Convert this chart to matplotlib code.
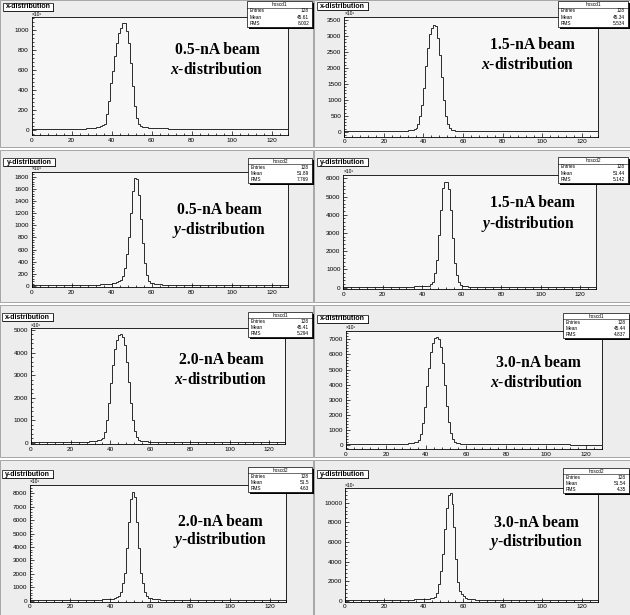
import matplotlib.pyplot as plt
import numpy as np
from matplotlib.patches import Rectangle
from matplotlib.transforms import Affine2D
from matplotlib.ticker import MultipleLocator

plt.rcParams['mathtext.fontset'] = 'custom'
plt.rcParams['mathtext.it'] = 'Liberation Serif:italic:bold'
plt.rcParams['mathtext.rm'] = 'Liberation Serif:bold'

W, H = 630, 615

# histograms: 128 bins from 0 to 128, counts in units of 10^3
n_bins = 128
x_range = (0, 128)

x_05 = [12, 11, 11, 10, 10, 11, 10, 10, 9, 10, 10, 9, 10, 10, 9, 10,
        10, 11, 10, 11, 11, 12, 12, 13, 13, 14, 15, 16, 17, 19, 21, 24,
        28, 33, 40, 48, 60, 165, 285, 465, 585, 735, 865, 965, 1015, 1065, 1073, 985,
        865, 665, 435, 235, 120, 58, 40, 33, 29, 26, 24, 22, 21, 20, 19, 18,
        17, 17, 16, 16, 15, 15, 15, 14, 14, 14, 13, 13, 13, 13, 12, 12,
        12, 12, 12, 11, 11, 11, 11, 11, 11, 10, 10, 10, 10, 10, 10, 10,
        10, 10, 10, 9, 10, 10, 9, 10, 9, 9, 10, 9, 9, 9, 10, 9,
        9, 9, 9, 10, 9, 9, 9, 9, 9, 8, 9, 9, 9, 9, 9, 9]

x_15 = [12, 11, 11, 11, 10, 10, 10, 10, 10, 10, 10, 10, 10, 10, 11, 11,
        11, 11, 12, 12, 13, 13, 14, 15, 16, 17, 18, 20, 22, 25, 28, 33,
        40, 50, 65, 90, 130, 230, 480, 850, 1380, 2050, 2620, 3050, 3250, 3340, 3300, 2950,
        2400, 1700, 1000, 500, 230, 110, 65, 45, 36, 30, 26, 23, 21, 19, 18, 17,
        16, 15, 15, 14, 14, 13, 13, 13, 12, 12, 12, 12, 11, 11, 11, 11,
        11, 11, 11, 10, 10, 10, 10, 10, 10, 10, 10, 10, 10, 10, 10, 10,
        10, 10, 10, 10, 10, 10, 10, 10, 10, 10, 10, 10, 10, 10, 10, 10,
        10, 10, 10, 10, 10, 10, 10, 10, 10, 10, 10, 10, 10, 10, 10, 10]

y_05 = [14, 13, 13, 13, 13, 12, 12, 12, 12, 12, 12, 12, 12, 12, 12, 12,
        12, 12, 13, 13, 13, 14, 14, 15, 15, 16, 17, 17, 18, 19, 20, 21,
        22, 24, 26, 28, 30, 33, 36, 40, 45, 52, 62, 75, 100, 170, 300, 520,
        800, 1200, 1560, 1775, 1760, 1500, 1100, 700, 380, 180, 90, 55, 42, 36, 32, 29,
        26, 24, 23, 22, 21, 20, 19, 18, 18, 17, 17, 16, 16, 16, 15, 15,
        15, 15, 14, 14, 14, 14, 14, 14, 13, 13, 13, 13, 13, 13, 13, 13,
        13, 13, 12, 12, 12, 12, 12, 12, 12, 12, 12, 12, 12, 12, 12, 12,
        12, 12, 12, 12, 11, 11, 11, 11, 11, 11, 11, 11, 11, 11, 11, 11]

y_15 = [22, 21, 21, 20, 20, 20, 20, 20, 20, 20, 20, 20, 20, 20, 21, 21,
        21, 22, 22, 23, 24, 25, 26, 27, 28, 30, 32, 34, 36, 39, 42, 46,
        50, 54, 58, 63, 68, 74, 80, 86, 92, 98, 104, 110, 180, 330, 790, 1520,
        2890, 4260, 5450, 5820, 5800, 5390, 4260, 2700, 1330, 700, 330, 150, 100, 80, 68, 60,
        54, 50, 46, 43, 40, 38, 36, 34, 32, 31, 30, 29, 28, 27, 26, 25,
        25, 24, 24, 23, 23, 22, 22, 22, 21, 21, 21, 21, 20, 20, 20, 20,
        20, 20, 20, 20, 20, 20, 20, 20, 20, 20, 20, 20, 20, 20, 20, 20,
        20, 20, 20, 20, 19, 19, 19, 19, 19, 19, 19, 19, 19, 19, 19, 19]

x_20 = [30, 28, 27, 26, 26, 25, 25, 25, 25, 25, 25, 25, 26, 26, 26, 27,
        27, 28, 29, 30, 31, 32, 34, 36, 38, 40, 43, 46, 50, 55, 62, 70,
        80, 95, 115, 140, 190, 490, 1000, 1750, 2630, 3450, 4150, 4560, 4780, 4820, 4700, 4350,
        3600, 2700, 1750, 1000, 520, 250, 130, 90, 70, 60, 52, 47, 43, 40, 38, 36,
        34, 33, 32, 31, 30, 29, 28, 28, 27, 27, 26, 26, 26, 25, 25, 25,
        25, 25, 25, 24, 24, 24, 24, 24, 24, 24, 24, 24, 23, 23, 23, 23,
        23, 23, 23, 23, 23, 23, 23, 23, 23, 23, 23, 23, 23, 23, 23, 23,
        22, 22, 22, 22, 22, 22, 22, 22, 22, 22, 22, 22, 22, 22, 22, 22]

x_30 = [45, 42, 40, 39, 38, 38, 37, 37, 37, 37, 37, 38, 38, 39, 39, 40,
        41, 42, 43, 45, 47, 49, 51, 54, 57, 60, 64, 69, 75, 82, 92, 105,
        120, 140, 170, 210, 300, 700, 1450, 2550, 3900, 5100, 6150, 6750, 7100, 7150, 7000, 6500,
        5400, 4000, 2600, 1500, 780, 380, 190, 130, 100, 85, 75, 68, 62, 58, 55, 52,
        50, 48, 46, 44, 43, 42, 41, 40, 39, 38, 38, 37, 37, 36, 36, 36,
        36, 35, 35, 35, 35, 35, 34, 34, 34, 34, 34, 34, 34, 34, 34, 34,
        34, 34, 34, 34, 34, 34, 34, 34, 34, 34, 34, 34, 34, 34, 34, 34,
        33, 33, 33, 33, 33, 33, 33, 33, 33, 33, 33, 33, 33, 33, 33, 33]

y_20 = [35, 33, 32, 31, 30, 30, 30, 30, 30, 30, 30, 30, 31, 31, 31, 32,
        32, 33, 34, 35, 36, 37, 38, 40, 42, 44, 46, 49, 52, 55, 59, 63,
        68, 73, 79, 86, 94, 103, 113, 125, 140, 160, 200, 260, 360, 650, 1300, 2100,
        3900, 5900, 7600, 8100, 7700, 5900, 3900, 2100, 1300, 650, 360, 230, 170, 140, 120, 105,
        95, 88, 82, 77, 72, 68, 64, 61, 58, 56, 54, 52, 50, 48, 47, 46,
        45, 44, 43, 42, 41, 40, 40, 39, 39, 38, 38, 37, 37, 36, 36, 36,
        35, 35, 35, 35, 35, 35, 35, 35, 35, 35, 35, 35, 35, 35, 35, 35,
        34, 34, 34, 34, 34, 34, 34, 34, 34, 34, 34, 34, 34, 34, 34, 34]

y_30 = [50, 47, 45, 44, 43, 43, 42, 42, 42, 42, 42, 43, 43, 44, 44, 45,
        46, 47, 48, 50, 52, 54, 56, 59, 62, 65, 69, 73, 78, 84, 90, 97,
        105, 112, 120, 128, 137, 147, 160, 175, 190, 205, 220, 240, 270, 330, 800, 1700,
        3000, 4800, 7300, 9500, 10800, 11000, 9900, 7500, 4300, 1900, 1000, 650, 430, 280, 200, 160,
        140, 125, 113, 103, 95, 88, 82, 77, 73, 69, 66, 63, 61, 59, 57, 55,
        54, 53, 52, 51, 50, 49, 48, 48, 47, 47, 46, 46, 45, 45, 45, 44,
        44, 44, 44, 44, 44, 44, 44, 44, 44, 44, 44, 44, 44, 44, 44, 44,
        43, 43, 43, 43, 43, 43, 43, 43, 43, 43, 43, 43, 43, 43, 43, 43]

# panel order: row by row, left then right
counts = [x_05, x_15, y_05, y_15, x_20, x_30, y_20, y_30]
beams = ['0.5-nA beam', '1.5-nA beam', '0.5-nA beam', '1.5-nA beam',
         '2.0-nA beam', '3.0-nA beam', '2.0-nA beam', '3.0-nA beam']
axes_var = ['x', 'x', 'y', 'y', 'x', 'x', 'y', 'y']
hist_names = ['hoscd1', 'hoscd1', 'hoscd2', 'hoscd2', 'hoscd1', 'hoscd1', 'hoscd2', 'hoscd2']
entries = [128, 128, 128, 128, 128, 128, 128, 128]
means = ['45.61', '45.34', '51.89', '51.44', '45.41', '45.44', '51.5', '51.54']
rms = ['8.002', '5.534', '7.769', '5.142', '5.294', '4.837', '4.63', '4.35']
y_steps = [200, 500, 200, 1000, 1000, 1000, 1000, 2000]

# layout in pixels of the screenshot (x0, y0, x1, y1 measured from top-left)
layout = [
    dict(canvas=(0, 0, 313, 147), frame=(31.7, 17.3, 287.7, 135), ylim=(-50, 1127),
         title=(3, 3, 53, 11), stats=(247, 1, 312, 27), text=((217, 50), (217, 70))),
    dict(canvas=(314, 0, 630, 147), frame=(344.3, 16.7, 597.5, 136.7), ylim=(-157, 3605),
         title=(317, 2, 368, 10), stats=(558, 1, 628, 27), text=((532, 45), (528, 65))),
    dict(canvas=(0, 150, 313, 302), frame=(31.7, 171.7, 287.7, 287.3), ylim=(-22, 1882),
         title=(3, 158, 55, 166), stats=(248, 158, 312, 183), text=((219, 210), (219, 230))),
    dict(canvas=(314, 150, 630, 302), frame=(343.3, 175, 595.8, 289.3), ylim=(-90, 6180),
         title=(317, 158, 368, 166), stats=(558, 157, 628, 183), text=((532, 203), (528, 224))),
    dict(canvas=(0, 305, 313, 457), frame=(31, 328.3, 285.2, 444.3), ylim=(-74, 5074),
         title=(2, 313, 53, 321), stats=(248, 312, 312, 337), text=((221, 360), (221, 380))),
    dict(canvas=(314, 305, 630, 457), frame=(346, 331, 601.7, 449), ylim=(-265, 7551),
         title=(317, 315, 368, 323), stats=(563, 313, 629, 338), text=((538, 363), (537, 383))),
    dict(canvas=(0, 460, 313, 615), frame=(30, 485, 286, 601.7), ylim=(-75, 8620),
         title=(2, 470, 53, 478), stats=(248, 467, 312, 492), text=((220, 522), (220, 540))),
    dict(canvas=(314, 460, 630, 615), frame=(345, 488.3, 597.5, 601.7), ylim=(-102, 11470),
         title=(317, 470, 368, 478), stats=(563, 468, 629, 493), text=((536, 523), (536, 542))),
]


def box(fig, px, x0, y0, x1, y1, shadow=1.3):
    fig.add_artist(Rectangle((x0 + shadow, y0 + shadow), x1 - x0, y1 - y0, transform=px,
                             facecolor='black', edgecolor='none', zorder=4))
    fig.add_artist(Rectangle((x0, y0), x1 - x0, y1 - y0, transform=px,
                             facecolor='white', edgecolor='black', lw=0.5, zorder=5))


def draw_panel(fig, px, i):
    lay = layout[i]
    cx0, cy0, cx1, cy1 = lay['canvas']
    fig.add_artist(Rectangle((cx0, cy0), cx1 - cx0, cy1 - cy0, transform=px,
                             facecolor='#ededed', edgecolor='#9a9a9a', lw=0.6, zorder=-5))

    l, t, r, b = lay['frame']
    ax = fig.add_axes([l / W, 1 - b / H, (r - l) / W, (b - t) / H])
    ax.set_facecolor('#f7f7f7')
    edges = np.linspace(x_range[0], x_range[1], n_bins + 1)
    ax.stairs(counts[i], edges, color='#2a2a2a', lw=0.7)
    ax.set_xlim(x_range)
    ax.set_ylim(lay['ylim'])

    ax.xaxis.set_major_locator(MultipleLocator(20))
    ax.xaxis.set_minor_locator(MultipleLocator(4))
    ax.yaxis.set_major_locator(MultipleLocator(y_steps[i]))
    ax.yaxis.set_minor_locator(MultipleLocator(y_steps[i] / 5))
    ax.tick_params(which='both', direction='in', top=False, right=False,
                   labelsize=4.6, pad=2, width=0.5)
    ax.tick_params(which='major', length=3)
    ax.tick_params(which='minor', length=1.5)
    for lab in ax.get_xticklabels() + ax.get_yticklabels():
        lab.set_family('Liberation Sans')
    for s in ax.spines.values():
        s.set_linewidth(0.6)
    ax.text(0.0, 1.005, '×10³', transform=ax.transAxes, fontsize=3.6,
            family='Liberation Sans', ha='left', va='bottom')

    # title box
    x0, y0, x1, y1 = lay['title']
    box(fig, px, x0, y0, x1, y1, shadow=1.3)
    fig.text((x0 + x1) / 2 / W, 1 - (y0 + y1) / 2 / H, axes_var[i] + '-distribution',
             ha='center', va='center', fontsize=5, weight='bold',
             family='Liberation Sans', zorder=6)

    # stats box
    x0, y0, x1, y1 = lay['stats']
    box(fig, px, x0, y0, x1, y1, shadow=1.5)
    hh = (y1 - y0) / 4.0
    fig.add_artist(plt.Line2D([x0, x1], [y0 + hh, y0 + hh], transform=px,
                              color='black', lw=0.4, zorder=6))
    fig.text((x0 + x1) / 2 / W, 1 - (y0 + hh / 2) / H, hist_names[i],
             ha='center', va='center', fontsize=3.4, family='Liberation Sans', zorder=6)
    rows = [('Entries', str(entries[i])), ('Mean', means[i]), ('RMS', rms[i])]
    for k, (name, val) in enumerate(rows):
        yy = y0 + hh * (k + 1.5)
        fig.text((x0 + 3) / W, 1 - yy / H, name, ha='left', va='center',
                 fontsize=3.4, family='Liberation Sans', zorder=6)
        fig.text((x1 - 3) / W, 1 - yy / H, val, ha='right', va='center',
                 fontsize=3.4, family='Liberation Sans', zorder=6)

    # beam annotation
    (bx, by), (dx, dy) = lay['text']
    fig.text(bx / W, 1 - by / H, beams[i], ha='center', va='center', fontsize=11.3,
             family='Liberation Serif', weight='bold', zorder=6)
    fig.text(dx / W, 1 - dy / H, '$' + axes_var[i] + '$-distribution', ha='center',
             va='center', fontsize=11.2, family='Liberation Serif', weight='bold', zorder=6)


if __name__ == "__main__":
    fig = plt.figure(figsize=(W / 100, H / 100), dpi=100)
    fig.patch.set_facecolor('white')
    px = Affine2D().scale(1.0 / W, -1.0 / H).translate(0, 1) + fig.transFigure

    for i in range(len(counts)):
        draw_panel(fig, px, i)

    fig.savefig('out.png', dpi=100)
